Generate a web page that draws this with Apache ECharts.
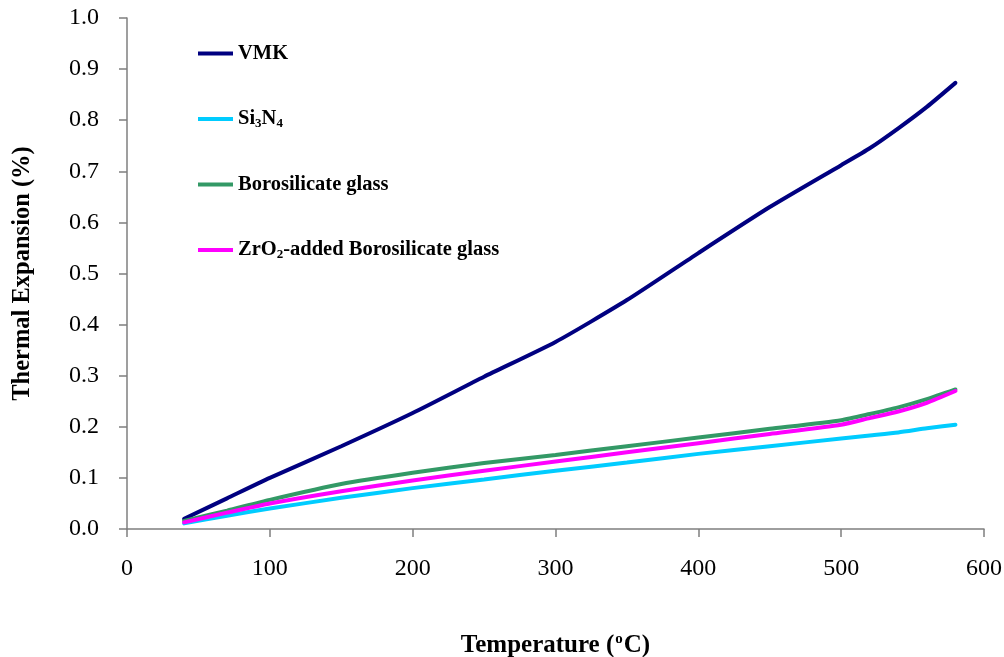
<!DOCTYPE html>
<html>
<head>
<meta charset="utf-8">
<script src="https://cdn.jsdelivr.net/npm/echarts@6/dist/echarts.min.js"></script>
<style>
  html, body { margin: 0; padding: 0; background: #fff; }
  #chart { width: 1004px; height: 657px; }
</style>
</head>
<body>
<div id="chart"></div>
<script>
// Temperatures (°C) at which the expansion was sampled
const temperatures = [40, 70, 100, 150, 200, 250, 300, 350, 400, 450, 500, 520, 540, 560, 580];

// Thermal expansion (%) per material
const vmk        = [0.020, 0.060, 0.100, 0.162, 0.227, 0.298, 0.366, 0.448, 0.540, 0.630, 0.712, 0.745, 0.784, 0.826, 0.873];
const si3n4      = [0.011, 0.026, 0.040, 0.061, 0.080, 0.097, 0.114, 0.130, 0.147, 0.162, 0.177, 0.183, 0.189, 0.197, 0.204];
const borosil    = [0.016, 0.036, 0.057, 0.088, 0.110, 0.129, 0.145, 0.162, 0.179, 0.196, 0.213, 0.225, 0.238, 0.254, 0.273];
const zrBorosil  = [0.013, 0.032, 0.050, 0.074, 0.095, 0.114, 0.132, 0.150, 0.168, 0.186, 0.204, 0.217, 0.230, 0.247, 0.270];

const seriesNames = ['VMK', 'Si3N4', 'Borosilicate glass', 'ZrO2-added Borosilicate glass'];
const seriesColors = ['#000080', '#00CCFF', '#339966', '#FF00FF'];
const seriesValues = [vmk, si3n4, borosil, zrBorosil];

const serif = '"Liberation Serif", "Times New Roman", serif';

function pairs(values) {
  return temperatures.map((t, i) => [t, values[i]]);
}

// Legend labels with chemical subscripts
const legendLabels = {
  'VMK': '{b|VMK}',
  'Si3N4': '{b|Si}{s|3}{b|N}{s|4}',
  'Borosilicate glass': '{b|Borosilicate glass}',
  'ZrO2-added Borosilicate glass': '{b|ZrO}{s|2}{b|-added Borosilicate glass}'
};

const chart = echarts.init(document.getElementById('chart'));
chart.setOption({
  animation: false,
  backgroundColor: '#ffffff',
  grid: { left: 127, right: 20, top: 18, bottom: 128, containLabel: false, outerBoundsMode: 'none' },
  legend: {
    orient: 'vertical',
    left: 193,
    top: 38,
    itemWidth: 35,
    itemHeight: 4,
    itemGap: 44,
    icon: 'rect',
    data: seriesNames,
    formatter: name => legendLabels[name],
    textStyle: {
      rich: {
        b: { fontFamily: serif, fontWeight: 'bold', fontSize: 20.5, color: '#000', lineHeight: 22 },
        s: { fontFamily: serif, fontWeight: 'bold', fontSize: 13, color: '#000', lineHeight: 22, verticalAlign: 'bottom', padding: [9, 0, 0, 0] }
      }
    }
  },
  xAxis: {
    type: 'value',
    min: 0,
    max: 600,
    interval: 100,
    name: '{t|Temperature (}{o|o}{t|C)}',
    nameLocation: 'middle',
    nameGap: 103,
    nameTextStyle: {
      rich: {
        t: { fontFamily: serif, fontWeight: 'bold', fontSize: 25, color: '#000', lineHeight: 28 },
        o: { fontFamily: serif, fontWeight: 'bold', fontSize: 15, color: '#000', lineHeight: 28, verticalAlign: 'top', padding: [0, 1, 17, 1] }
      }
    },
    axisLine: { onZero: false, lineStyle: { color: '#7f7f7f', width: 1.5 } },
    axisTick: { show: true, inside: false, length: 8, lineStyle: { color: '#7f7f7f', width: 1.5 } },
    axisLabel: { margin: 28, fontFamily: serif, fontSize: 24, color: '#000' },
    splitLine: { show: false }
  },
  yAxis: {
    type: 'value',
    min: 0,
    max: 1,
    interval: 0.1,
    name: 'Thermal Expansion (%)',
    nameLocation: 'middle',
    nameGap: 92,
    nameTextStyle: { fontFamily: serif, fontWeight: 'bold', fontSize: 24.5, color: '#000' },
    axisLine: { show: true, lineStyle: { color: '#7f7f7f', width: 1.5 } },
    axisTick: { show: true, inside: false, length: 8, lineStyle: { color: '#7f7f7f', width: 1.5 } },
    axisLabel: { margin: 28, fontFamily: serif, fontSize: 24, color: '#000', formatter: v => v.toFixed(1) },
    splitLine: { show: false }
  },
  series: seriesNames.map((name, i) => ({
    name: name,
    type: 'line',
    data: pairs(seriesValues[i]),
    smooth: 0.2,
    showSymbol: false,
    symbol: 'none',
    color: seriesColors[i],
    lineStyle: { color: seriesColors[i], width: 4, cap: 'round' },
    z: 2 + i
  }))
});
</script>
</body>
</html>
